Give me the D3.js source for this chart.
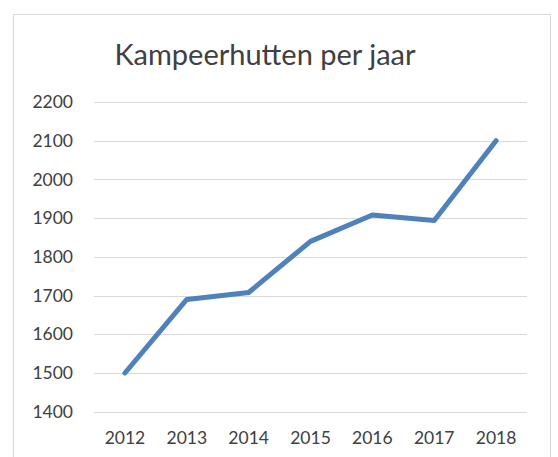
<!DOCTYPE html>
<html>
<head>
<meta charset="utf-8">
<script src="https://cdn.jsdelivr.net/npm/d3@7"></script>
<style>
  body { margin: 0; background: #fff; }
  svg { display: block; }
</style>
</head>
<body>
<div id="chart"></div>
<script>
// data
const years = ["2012", "2013", "2014", "2015", "2016", "2017", "2018"];
const hutten = [1500, 1690, 1708, 1840, 1908, 1894, 2100];
const yTicks = [1400, 1500, 1600, 1700, 1800, 1900, 2000, 2100, 2200];
const title = "Kampeerhutten per jaar";

const W = 558, H = 457;
const margin = { top: 102, right: 31, bottom: 45, left: 94 },
    width = W - margin.left - margin.right,
    height = 411.7 - margin.top;

const svg = d3.select("#chart")
    .append("svg")
    .attr("width", W)
    .attr("height", H);

// chart frame
svg.append("rect")
    .attr("x", 13.5)
    .attr("y", 14.5)
    .attr("width", 537)
    .attr("height", 460)
    .attr("fill", "#fff")
    .attr("stroke", "#d9d9d9")
    .attr("stroke-width", 1);

svg.append("text")
    .attr("x", 265)
    .attr("y", 65)
    .attr("text-anchor", "middle")
    .attr("fill", "#404040")
    .style("font-family", "Lato, 'Open Sans', sans-serif")
    .style("font-size", "29px")
    .text(title);

const g = svg.append("g")
    .attr("transform", `translate(${margin.left},${margin.top})`);

const x = d3.scaleBand()
    .domain(years)
    .range([0, width]);

const y = d3.scaleLinear()
    .domain([1400, 2200])
    .range([height, 0]);

// gridlines
g.selectAll(".grid")
    .data(yTicks)
    .join("line")
    .attr("class", "grid")
    .attr("x1", 0)
    .attr("x2", width)
    .attr("y1", d => Math.round(y(d)) + 0.5)
    .attr("y2", d => Math.round(y(d)) + 0.5)
    .attr("stroke", "#d9d9d9")
    .attr("stroke-width", 1);

// y axis labels
const yAxis = g.append("g")
    .call(d3.axisLeft(y).tickValues(yTicks).tickFormat(d3.format("d")).tickSize(0).tickPadding(21));
yAxis.select(".domain").remove();
yAxis.selectAll("text")
    .attr("fill", "#404040")
    .style("font-family", "Lato, 'Open Sans', sans-serif")
    .style("font-size", "17.5px");

// x axis labels
const xAxis = g.append("g")
    .attr("transform", `translate(0,${height})`)
    .call(d3.axisBottom(x).tickSize(0).tickPadding(20));
xAxis.select(".domain").remove();
xAxis.selectAll("text")
    .attr("fill", "#404040")
    .style("font-family", "Lato, 'Open Sans', sans-serif")
    .style("font-size", "17.5px");

const line = d3.line()
    .x((d, i) => x(years[i]) + x.bandwidth() / 2)
    .y(d => y(d));

g.append("path")
    .datum(hutten)
    .attr("d", line)
    .attr("fill", "none")
    .attr("stroke", "#4f81bd")
    .attr("stroke-width", 5)
    .attr("stroke-linejoin", "round")
    .attr("stroke-linecap", "round");
</script>
</body>
</html>
